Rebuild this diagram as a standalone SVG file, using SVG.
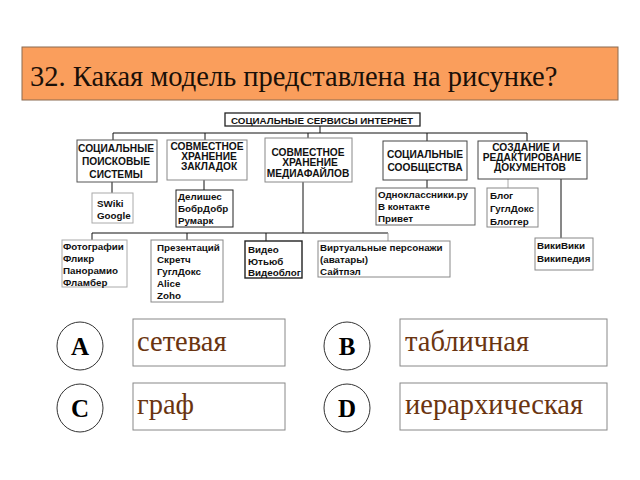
<svg xmlns="http://www.w3.org/2000/svg" width="640" height="480" viewBox="0 0 640 480">
<style>
.b{fill:#fff;stroke:#222;stroke-width:1}
.g{fill:#fff;stroke:#888;stroke-width:1}
.h{font-family:"Liberation Sans",Arial,sans-serif;font-weight:bold;font-size:10.2px;fill:#111;text-anchor:middle}
.t{font-family:"Liberation Sans",Arial,sans-serif;font-weight:bold;font-size:9.8px;fill:#111}
.c line{stroke:#111;stroke-width:1;fill:none}
.ans{fill:#fff;stroke:#888;stroke-width:1}
.at{font-family:"Liberation Serif","Times New Roman",serif;font-size:28.5px;fill:#6a3410}
.lt{font-family:"Liberation Serif","Times New Roman",serif;font-size:25px;font-weight:bold;fill:#000;text-anchor:middle}
.circ{fill:#fff;stroke:#333;stroke-width:1}
</style>
<rect width="640" height="480" fill="#fff"/>
<g id="title">
<rect x="22" y="47" width="596" height="53" fill="#fa9e5c" stroke="#8a6a50" stroke-width="1"/>
<text x="30" y="86" font-family="'Liberation Serif','Times New Roman',serif" font-size="28.5" fill="#1a1008">32. Какая модель представлена на рисунке?</text>
</g>
<g class="c" id="connectors">
<line x1="320" y1="126" x2="320" y2="133"/>
<line x1="113" y1="133" x2="527" y2="133"/>
<line x1="113" y1="133" x2="113" y2="140"/>
<line x1="205" y1="133" x2="205" y2="140"/>
<line x1="308" y1="133" x2="308" y2="138"/>
<line x1="427" y1="133" x2="427" y2="141"/>
<line x1="527" y1="133" x2="527" y2="141"/>
<line x1="112" y1="182" x2="112" y2="193"/>
<line x1="204" y1="180" x2="204" y2="190"/>
<line x1="303" y1="182" x2="303" y2="233"/>
<line x1="92" y1="233" x2="388" y2="233"/>
<line x1="92" y1="233" x2="92" y2="240"/>
<line x1="187" y1="233" x2="187" y2="240"/>
<line x1="266" y1="233" x2="266" y2="241"/>
<line x1="388" y1="233" x2="388" y2="241" style="stroke:#999"/>
<line x1="427" y1="180" x2="427" y2="188"/>
<line x1="508" y1="179" x2="508" y2="188" style="stroke:#aaa"/>
<line x1="561" y1="179" x2="561" y2="238"/>
</g>
<g id="root">
<rect class="b" x="225" y="113" width="195" height="13" style="stroke-width:1.3"/>
<text class="h" x="322" y="123.5" style="font-size:9.8px">СОЦИАЛЬНЫЕ СЕРВИСЫ ИНТЕРНЕТ</text>
</g>
<g id="n1">
<rect class="b" x="77" y="140" width="80" height="42" style="stroke:#555"/>
<text class="h" x="116" y="152">СОЦИАЛЬНЫЕ</text>
<text class="h" x="116" y="165">ПОИСКОВЫЕ</text>
<text class="h" x="116" y="178">СИСТЕМЫ</text>
</g>
<g id="n2">
<rect class="g" x="167" y="140" width="80" height="40"/>
<text class="h" x="207" y="150">СОВМЕСТНОЕ</text>
<text class="h" x="209" y="160">ХРАНЕНИЕ</text>
<text class="h" x="209" y="170">ЗАКЛАДОК</text>
</g>
<g id="n3">
<rect class="g" x="265" y="138" width="87" height="44"/>
<text class="h" x="308" y="156">СОВМЕСТНОЕ</text>
<text class="h" x="310" y="166">ХРАНЕНИЕ</text>
<text class="h" x="308" y="176.5">МЕДИАФАЙЛОВ</text>
</g>
<g id="n4">
<rect class="b" x="383" y="141" width="84" height="39" style="stroke:#444"/>
<text class="h" x="425" y="158">СОЦИАЛЬНЫЕ</text>
<text class="h" x="425" y="170.5">СООБЩЕСТВА</text>
</g>
<g id="n5">
<rect class="b" x="478" y="141" width="109" height="38" style="stroke:#444"/>
<text class="h" x="526" y="151">СОЗДАНИЕ И</text>
<text class="h" x="532" y="161">РЕДАКТИРОВАНИЕ</text>
<text class="h" x="530" y="171">ДОКУМЕНТОВ</text>
</g>
<g id="n6">
<rect class="g" x="92" y="193" width="41" height="30" style="stroke:#aaa"/>
<text class="t" x="97" y="207">SWiki</text>
<text class="t" x="97" y="219">Google</text>
</g>
<g id="n7">
<rect class="b" x="176" y="190" width="57" height="37"/>
<text class="t" x="178" y="199.5">Делишес</text>
<text class="t" x="178" y="212">БобрДобр</text>
<text class="t" x="178" y="224">Румарк</text>
</g>
<g id="n8">
<rect class="g" x="62" y="240" width="65" height="47" style="stroke:#aaa"/>
<text class="t" x="63" y="250">Фотографии</text>
<text class="t" x="63" y="262">Фликр</text>
<text class="t" x="63" y="274">Панорамио</text>
<text class="t" x="63" y="286">Фламбер</text>
</g>
<g id="n9">
<rect class="g" x="151" y="240" width="72" height="62"/>
<text class="t" x="157" y="251">Презентаций</text>
<text class="t" x="157" y="263">Скретч</text>
<text class="t" x="157" y="275">ГуглДокс</text>
<text class="t" x="157" y="287">Alice</text>
<text class="t" x="157" y="299">Zoho</text>
</g>
<g id="n10">
<rect class="b" x="245" y="241" width="57" height="37" style="stroke-width:1.4"/>
<text class="t" x="248" y="253">Видео</text>
<text class="t" x="248" y="264.5">Ютьюб</text>
<text class="t" x="248" y="276">Видеоблог</text>
</g>
<g id="n11">
<rect class="g" x="318" y="241" width="132" height="36"/>
<text class="t" x="320" y="251">Виртуальные персонажи</text>
<text class="t" x="320" y="263">(аватары)</text>
<text class="t" x="320" y="274.5">Сайтпэл</text>
</g>
<g id="n12">
<rect class="g" x="376" y="188" width="99" height="37" style="stroke:#666"/>
<text class="t" x="378" y="198">Одноклассники.ру</text>
<text class="t" x="378" y="209.5">В контакте</text>
<text class="t" x="378" y="221.5">Привет</text>
</g>
<g id="n13">
<rect class="g" x="487" y="188" width="51" height="39"/>
<text class="t" x="490" y="199">Блог</text>
<text class="t" x="490" y="212">ГуглДокс</text>
<text class="t" x="490" y="225">Блоггер</text>
</g>
<g id="n14">
<rect class="g" x="535" y="238" width="58" height="32"/>
<text class="t" x="537" y="249">ВикиВики</text>
<text class="t" x="537" y="262">Википедия</text>
</g>
<g id="optA">
<ellipse class="circ" cx="80" cy="346" rx="23" ry="24"/>
<text class="lt" x="80" y="355">A</text>
<rect class="ans" x="133" y="319" width="152" height="47"/>
<text class="at" x="137" y="351">сетевая</text>
</g>
<g id="optB">
<ellipse class="circ" cx="347" cy="346" rx="23" ry="24"/>
<text class="lt" x="347" y="355">B</text>
<rect class="ans" x="400" y="319" width="207" height="47"/>
<text class="at" x="405" y="351">табличная</text>
</g>
<g id="optC">
<ellipse class="circ" cx="80" cy="408" rx="23" ry="24"/>
<text class="lt" x="80" y="417">C</text>
<rect class="ans" x="133" y="383" width="152" height="47"/>
<text class="at" x="137" y="414">граф</text>
</g>
<g id="optD">
<ellipse class="circ" cx="347" cy="408" rx="23" ry="24"/>
<text class="lt" x="347" y="417">D</text>
<rect class="ans" x="400" y="383" width="207" height="47"/>
<text class="at" x="405" y="414">иерархическая</text>
</g>
</svg>
